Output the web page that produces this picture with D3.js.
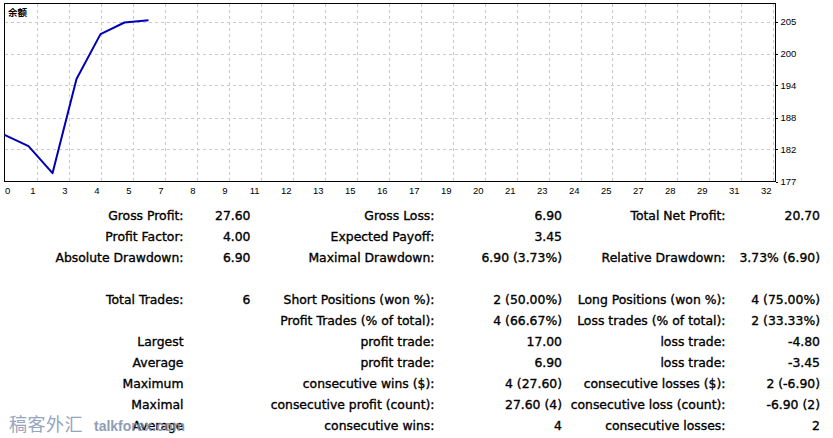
<!DOCTYPE html>
<html><head><meta charset="utf-8">
<script src="https://cdn.jsdelivr.net/npm/d3@7"></script>
<style>
html,body{margin:0;padding:0;background:#fff;}
svg{display:block;}
</style></head>
<body>
<script>
// ---- data ----
const trades = [0, 1, 2, 3, 4, 5, 6];
const balance = [185.0, 183.0, 178.1, 195.1, 203.2, 205.3, 205.7];
const xTickValues = d3.range(0, 25).map(k => k * 4 / 3);
const xTickLabels = xTickValues.map(v => String(Math.round(v)));
const yTickValues = [176.6, 182.38, 188.15, 193.93, 199.7, 205.48];
const yTickLabels = ["177", "182", "188", "194", "200", "205"];
const seriesLabel = "余额";

const rowSlots = [0, 1, 2, 4, 5, 6, 7, 8, 9, 10];
const col1Labels = ["Gross Profit:", "Profit Factor:", "Absolute Drawdown:", "Total Trades:", "", "Largest", "Average", "Maximum", "Maximal", "Average"];
const col1Values = ["27.60", "4.00", "6.90", "6", "", "", "", "", "", ""];
const col2Labels = ["Gross Loss:", "Expected Payoff:", "Maximal Drawdown:", "Short Positions (won %):", "Profit Trades (% of total):", "profit trade:", "profit trade:", "consecutive wins ($):", "consecutive profit (count):", "consecutive wins:"];
const col2Values = ["6.90", "3.45", "6.90 (3.73%)", "2 (50.00%)", "4 (66.67%)", "17.00", "6.90", "4 (27.60)", "27.60 (4)", "4"];
const col3Labels = ["Total Net Profit:", "", "Relative Drawdown:", "Long Positions (won %):", "Loss trades (% of total):", "loss trade:", "loss trade:", "consecutive losses ($):", "consecutive loss (count):", "consecutive losses:"];
const col3Values = ["20.70", "", "3.73% (6.90)", "4 (75.00%)", "2 (33.33%)", "-4.80", "-3.45", "2 (-6.90)", "-6.90 (2)", "2"];

// ---- layout ----
const W = 833, H = 438;
const L = 4.5, T = 3.5, R = 775.5, B = 181.5;

const svg = d3.select("body").append("svg").attr("width", W).attr("height", H);

const x = d3.scaleLinear().domain([0, 32.125]).range([L, R]);
const y = d3.scaleLinear().domain([176.6, 176.6 + (B - T) / 5.54]).range([B, T]);

// grid
const grid = svg.append("g").attr("stroke", "#c8c8c8").attr("stroke-dasharray", "3,3").attr("shape-rendering", "crispEdges");
grid.selectAll("line.v").data(xTickValues.slice(1)).join("line")
  .attr("x1", d => Math.round(x(d)) + 0.5).attr("x2", d => Math.round(x(d)) + 0.5)
  .attr("y1", T).attr("y2", B);
grid.selectAll("line.h").data(yTickValues.slice(1)).join("line")
  .attr("y1", d => Math.round(y(d)) + 0.5).attr("y2", d => Math.round(y(d)) + 0.5)
  .attr("x1", L).attr("x2", R);

// frame
svg.append("rect").attr("x", L).attr("y", T).attr("width", R - L).attr("height", B - T)
  .attr("fill", "none").attr("stroke", "#000").attr("shape-rendering", "crispEdges");

// x axis
const xAxis = d3.axisBottom(x).tickValues(xTickValues).tickSize(0).tickPadding(0)
  .tickFormat((d, i) => xTickLabels[i]);
const gx = svg.append("g").attr("transform", `translate(0,${B})`).call(xAxis);
gx.select(".domain").remove();
gx.selectAll("text")
  .attr("font-family", "Liberation Sans, Arial, sans-serif").attr("font-size", 9.5).attr("fill", "#000")
  .attr("dy", 0).attr("y", 12.5)
  .attr("text-anchor", (d, i) => i === 0 ? "start" : "end")
  .attr("dx", (d, i) => i === 0 ? 0 : -1.5);

// y axis (right)
const yAxis = d3.axisRight(y).tickValues(yTickValues).tickSize(2).tickPadding(3)
  .tickFormat((d, i) => yTickLabels[i]);
const gy = svg.append("g").attr("transform", `translate(${R},0)`).call(yAxis);
gy.select(".domain").remove();
gy.selectAll("line").attr("stroke", "#000").attr("shape-rendering", "crispEdges");
gy.selectAll("text").attr("font-family", "Liberation Sans, Arial, sans-serif").attr("font-size", 9.5).attr("fill", "#000");

// series label
svg.append("text").attr("x", 8).attr("y", 15.5).text(seriesLabel)
  .attr("font-family", "Noto Sans CJK SC").attr("font-size", 9.5).attr("font-weight", "bold").attr("fill", "#000");

// balance line
const line = d3.line().x((d, i) => x(trades[i])).y(d => y(d));
svg.append("path").datum(balance).attr("d", line)
  .attr("fill", "none").attr("stroke", "#0000b4").attr("stroke-width", 2)
  .attr("stroke-linejoin", "round");

// ---- statistics table ----
const rowY = s => 220 + 21 * s;
const tf = "DejaVu Sans, sans-serif", ts = 12.4;
const cols = [
  { arr: col1Labels, xr: 183.5 }, { arr: col1Values, xr: 250.5 },
  { arr: col2Labels, xr: 434.5 }, { arr: col2Values, xr: 562 },
  { arr: col3Labels, xr: 725.5 }, { arr: col3Values, xr: 820 }
];
const tbl = svg.append("g").attr("font-family", tf).attr("font-size", ts).attr("fill", "#000")
  .attr("stroke", "#000").attr("stroke-width", 0.35).attr("text-anchor", "end");
cols.forEach(c => {
  tbl.append("g").selectAll("text").data(c.arr).join("text")
    .attr("x", c.xr).attr("y", (d, i) => rowY(rowSlots[i])).text(d => d);
});

// watermark (overlaps the last row label, as in the reference)
const wm = svg.append("g").attr("opacity", 0.85);
wm.append("text").attr("x", 9).attr("y", 431).text("稿客外汇")
  .attr("font-family", "Noto Sans CJK SC").attr("font-size", 18).attr("fill", "#8595b5").attr("letter-spacing", 0.5);
wm.append("text").attr("x", 94).attr("y", 431).text("talkforex.com")
  .attr("font-family", "Liberation Sans, Arial, sans-serif").attr("font-size", 14).attr("font-weight", "bold").attr("fill", "#7d8dab");
</script>
</body></html>
